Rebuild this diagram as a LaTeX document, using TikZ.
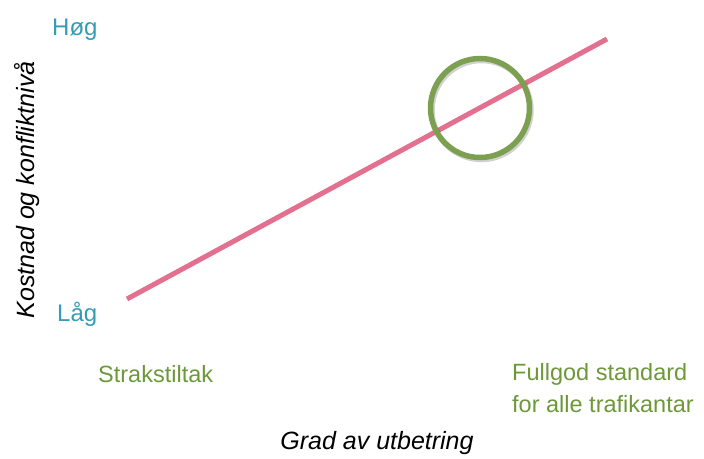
\documentclass[tikz,border=0pt]{standalone}
\usepackage{fontspec}
\setmainfont{Liberation Sans}
\usetikzlibrary{positioning, shadows}
\definecolor{blaa}{RGB}{52, 156, 180}
\definecolor{groenn}{RGB}{108, 152, 58}
\definecolor{rosa}{RGB}{226, 112, 142}
\definecolor{sirkel}{RGB}{124, 160, 80}
\tikzset{
    niva/.style={text=blaa, font=\fontsize{24}{28}\selectfont, inner sep=0pt},
    ende/.style={text=groenn, font=\fontsize{23.5}{32}\selectfont, align=left, inner sep=0pt},
    akse/.style={text=black, font=\itshape\fontsize{25}{28}\selectfont, inner sep=0pt},
    linje/.style={-, rosa, line width=5pt},
    ring/.style={circle, draw=sirkel, line width=5.5pt, minimum size=99pt, inner sep=0pt,
        drop shadow={shadow xshift=1.5pt, shadow yshift=-2pt, fill=none, draw=black, opacity=.18}},
}
\begin{document}
\begin{tikzpicture}[x=1pt, y=-1pt]
    \useasboundingbox (0,0) rectangle (704,458);

    \node [niva, anchor=west] (hoy) at (52,30) {Høg};
    \node [niva, anchor=west] (lav) at (57,314) {Låg};
    \node [akse, rotate=90] (yakse) at (27,190) {Kostnad og konfliktnivå};

    \coordinate (start) at (127,299);
    \coordinate (slutt) at (607,39);
    \draw[linje] (start) -- (slutt);

    \node [ring] (fokus) at (480,108) {};

    \node [ende, anchor=west] (straks) at (98,374) {Strakstiltak};
    \node [ende, anchor=north west] (fullgod) at (512,363) {Fullgod standard\\for alle trafikantar};
    \node [akse] (xakse) at (377,443) {Grad av utbetring};
\end{tikzpicture}
\end{document}
